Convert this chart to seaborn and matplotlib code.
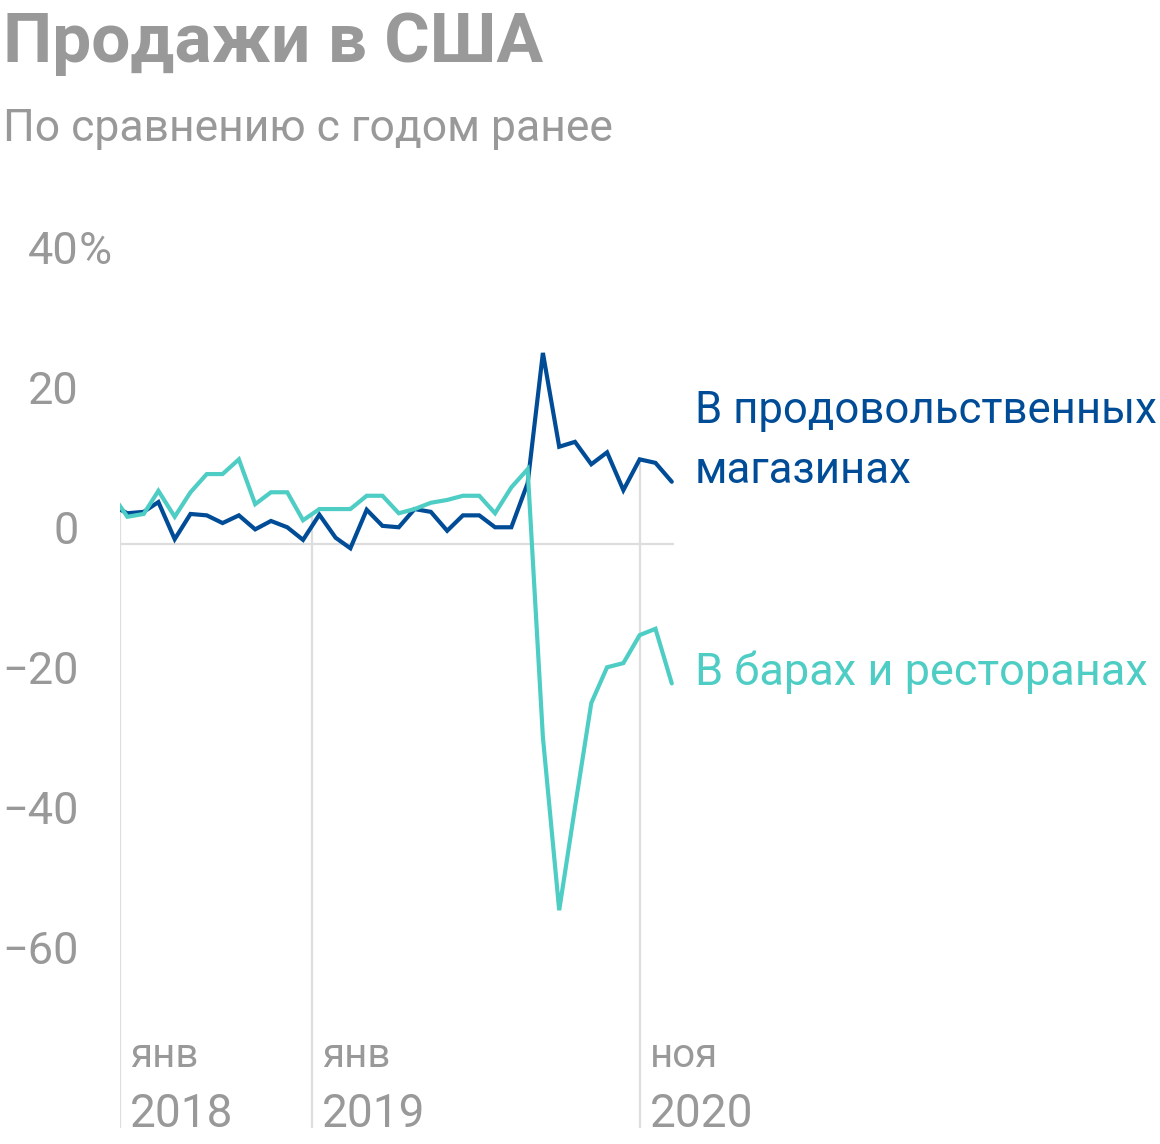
import numpy as np
import pandas as pd
import matplotlib
matplotlib.use("Agg")
import matplotlib.pyplot as plt
import matplotlib.dates as mdates
import seaborn as sns

# Годовой прирост продаж, %, дек 2017 - ноя 2020 (точки в середине месяца)
months = pd.date_range("2017-12-01", periods=36, freq="MS") + pd.Timedelta(days=14)

grocery = [5.6,
           4.4, 4.6, 6.0, 0.7, 4.3, 4.1, 3.0, 4.1, 2.1, 3.3, 2.4, 0.6,
           4.2, 0.9, -0.6, 4.9, 2.6, 2.4, 5.0, 4.6, 1.9, 4.1, 4.1, 2.4,
           2.4, 8.7, 27.3, 13.9, 14.6, 11.4, 13.1, 7.7, 12.1, 11.6, 8.9]

restaurants = [7.3,
               3.9, 4.3, 7.6, 3.9, 7.4, 10.0, 10.0, 12.1, 5.7, 7.4, 7.4, 3.4,
               5.0, 5.0, 5.0, 6.9, 6.9, 4.4, 5.0, 5.9, 6.3, 6.9, 6.9, 4.4,
               8.1, 10.7, -27.6, -52.3, -37.6, -22.7, -17.6, -17.0, -13.0, -12.1, -19.9]

series_names = ["В продовольственных\nмагазинах", "В барах и ресторанах"]
series_colors = ["#004C97", "#4ECDC4"]

y_ticks = [-60, -40, -20, 0, 20, 40]
y_labels = ["−60", "−40", "−20", "0", "20", "40"]

x_marks = [pd.Timestamp("2018-01-01"), pd.Timestamp("2019-01-01"), pd.Timestamp("2020-09-15")]
x_month = ["янв", "янв", "ноя"]
x_year = ["2018", "2019", "2020"]

GRAY = "#999999"
GRID = "#dddddd"

df = pd.DataFrame({
    "date": list(months) * 2,
    "value": grocery + restaurants,
    "series": [series_names[0]] * len(months) + [series_names[1]] * len(months),
})

sns.set_style("white")
plt.rcParams["font.family"] = ["Roboto", "DejaVu Sans"]

W, H = 1160, 1144
fig = plt.figure(figsize=(W / 100, H / 100), dpi=100)
ax = fig.add_axes([120 / W, 16 / H, 554.4 / W, (1128 - 229) / H])

ax.set_xlim(pd.Timestamp("2018-01-01"), pd.Timestamp("2020-11-20"))
ax.set_ylim(-83.4, 45)

# сетка: ноль и вертикальные линии от графика вниз
ax.axhline(0, color=GRID, lw=1.6, zorder=1)
xnum = mdates.date2num(months)
for d in x_marks:
    dn = mdates.date2num(d)
    top = max(np.interp(dn, xnum, grocery), np.interp(dn, xnum, restaurants))
    ax.vlines(d, -83.4, top, color=GRID, lw=1.6, zorder=1)

sns.lineplot(data=df, x="date", y="value", hue="series",
             palette=series_colors, linewidth=3, legend=False, ax=ax, zorder=3)

for line in ax.get_lines():
    line.set_solid_joinstyle("miter")

for s in ax.spines.values():
    s.set_visible(False)
ax.set_xlabel("")
ax.set_ylabel("")
ax.set_xticks([])
ax.set_yticks(y_ticks)
ax.set_yticklabels(y_labels, va="baseline", color=GRAY, fontsize=32.5)
ax.tick_params(axis="y", length=0, pad=30)
ax.annotate("%", xy=(0, 40), xycoords=("axes fraction", "data"),
            xytext=(-41, 0), textcoords="offset pixels",
            ha="left", va="baseline", color=GRAY, fontsize=32.5)

for d, m, y in zip(x_marks, x_month, x_year):
    ax.annotate(m, xy=(d, -83.4), xytext=(10, 61), textcoords="offset pixels",
                ha="left", va="baseline", color=GRAY, fontsize=29)
    ax.annotate(y, xy=(d, -83.4), xytext=(10, 1), textcoords="offset pixels",
                ha="left", va="baseline", color=GRAY, fontsize=33)

# подписи рядов
fig.text(695 / W, 1 - 423 / H, "В продовольственных", color=series_colors[0],
         fontsize=31.5, ha="left", va="baseline")
fig.text(695 / W, 1 - 483 / H, "магазинах", color=series_colors[0],
         fontsize=31.5, ha="left", va="baseline")
fig.text(695 / W, 1 - 685 / H, "В барах и ресторанах", color=series_colors[1],
         fontsize=32.5, ha="left", va="baseline")

fig.text(3 / W, 1 - 62 / H, "Продажи в США", color=GRAY, fontsize=50,
         fontweight="bold", ha="left", va="baseline")
fig.text(3 / W, 1 - 141 / H, "По сравнению с годом ранее", color=GRAY,
         fontsize=32, ha="left", va="baseline")

fig.savefig("out.png", dpi=100)
